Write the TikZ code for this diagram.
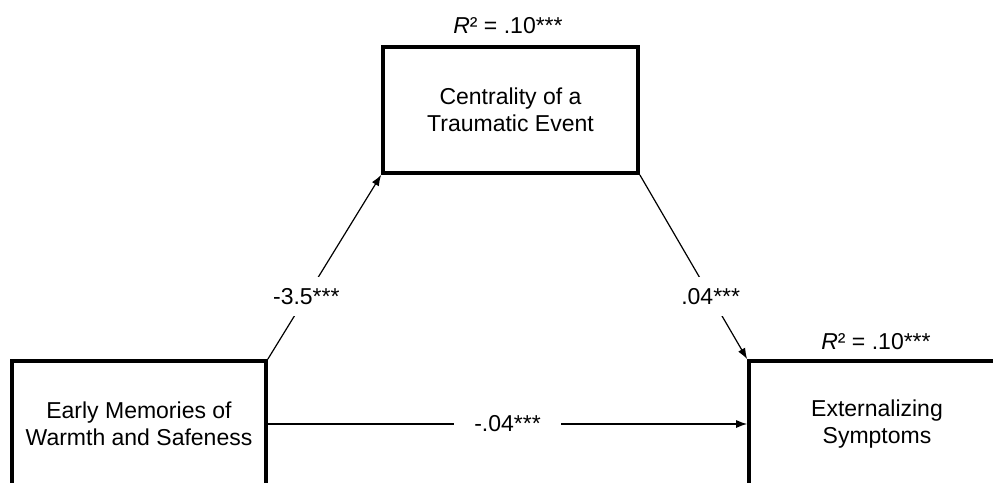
\documentclass[tikz,border=0pt]{standalone}
\usepackage{fontspec}
\setmainfont{Liberation Sans}
\usetikzlibrary{arrows.meta}
\begin{document}
\begin{tikzpicture}[x=1pt,y=-1pt,
  box/.style={draw=black, line width=3.6pt, rectangle, align=center,
    font=\fontsize{23}{27}\selectfont, inner sep=0pt},
  path/.style={line width=1.2pt, -{Latex[length=11pt,width=8pt]}},
  coef/.style={fill=white, font=\fontsize{23}{27}\selectfont, inner xsep=20pt, inner ysep=11pt},
  rsq/.style={font=\fontsize{23}{27}\selectfont, inner sep=0pt}]
\path[use as bounding box, clip] (0,0) rectangle (993,482);
\node[box, minimum width=255pt, minimum height=126pt] (cent) at (510.5,110) {Centrality of a\\Traumatic Event};
\node[box, minimum width=254pt, minimum height=126pt] (early) at (139,424) {Early Memories of\\Warmth and Safeness};
\node[box, minimum width=256pt, minimum height=126pt] (ext) at (877,424) {Externalizing\\Symptoms};
\node[rsq] (r1) at (508,26) {\textit{R}² = .10***};
\node[rsq] (r2) at (876,342) {\textit{R}² = .10***};
\draw[path] (early.north east) -- node[coef, pos=0.34] (a) {-3.5***} (cent.south west);
\draw[path] (cent.south east) -- node[coef, pos=0.66] (b) {.04***} (ext.north west);
\draw[path] (early.east) -- node[coef] (c) {-.04***} (ext.west);
\end{tikzpicture}
\end{document}
